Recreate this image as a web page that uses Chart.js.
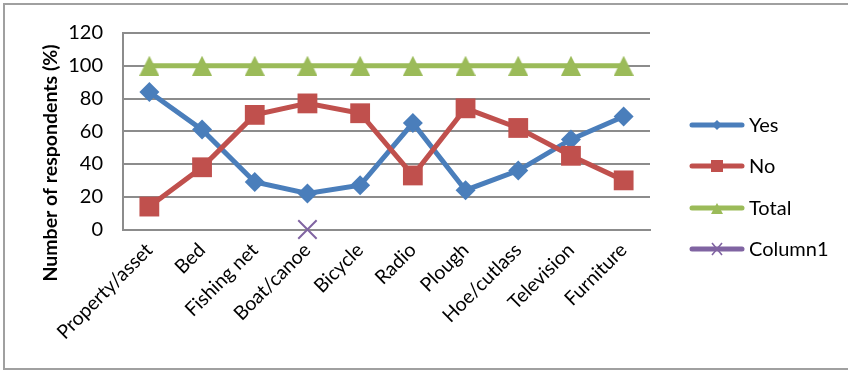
<!DOCTYPE html>
<html>
<head>
<meta charset="utf-8">
<script src="https://cdn.jsdelivr.net/npm/chart.js@4/dist/chart.umd.min.js"></script>
<style>
  html, body { margin: 0; padding: 0; background: #ffffff; }
  #wrap { width: 848px; height: 371px; }
</style>
</head>
<body>
<div id="wrap"><canvas id="chart" width="848" height="371"></canvas></div>
<script>
// Household assets: share of respondents answering Yes / No
const categories = ['Property/asset', 'Bed', 'Fishing net', 'Boat/canoe', 'Bicycle',
                    'Radio', 'Plough', 'Hoe/cutlass', 'Television', 'Furniture'];
const yesValues = [84, 61, 29, 22, 27, 65, 24, 36, 55, 69];
const noValues = [14, 38, 70, 77, 71, 33, 74, 62, 45, 30];
const totalValues = [100, 100, 100, 100, 100, 100, 100, 100, 100, 100];
const column1Values = [null, null, null, 0, null, null, null, null, null, null];
const yTicks = [0, 20, 40, 60, 80, 100, 120];
const yTitle = 'Number of respondents (%)';

const FONT = 'Lato, "Open Sans", sans-serif';
const BLUE = '#4a7ebb', RED = '#c0504d', GREEN = '#9bbb59', PURPLE = '#8064a2';
const GRID = '#8c8c8c';

// Triangle marker centred on its bounding box
function triangleMarker(size, color) {
  const c = document.createElement('canvas');
  c.width = size; c.height = size;
  const g = c.getContext('2d');
  g.fillStyle = color;
  g.beginPath();
  g.moveTo(size / 2, 0);
  g.lineTo(size, size);
  g.lineTo(0, size);
  g.closePath();
  g.fill();
  return c;
}

const series = [
  { label: 'Yes', data: yesValues, color: BLUE, style: 'rectRot', radius: 10, order: 4 },
  { label: 'No', data: noValues, color: RED, style: 'rect', radius: 14, order: 3 },
  { label: 'Total', data: totalValues, color: GREEN, style: triangleMarker(20, GREEN), radius: 10, order: 2 },
  { label: 'Column1', data: column1Values, color: PURPLE, style: 'crossRot', radius: 13, order: 1 }
];

// Outer frame, vertical axis title and the legend on the right
const decorations = {
  id: 'decorations',
  afterDraw(chart) {
    const ctx = chart.ctx;
    ctx.save();
    ctx.strokeStyle = '#a0a0a0';
    ctx.lineWidth = 2;
    ctx.beginPath();
    ctx.moveTo(852, 4); ctx.lineTo(4, 4); ctx.lineTo(4, 369); ctx.lineTo(852, 369);
    ctx.stroke();

    ctx.fillStyle = '#000';
    ctx.font = 'bold 19.5px ' + FONT;
    ctx.textAlign = 'center';
    ctx.textBaseline = 'middle';
    ctx.translate(51, 163);
    ctx.rotate(-Math.PI / 2);
    ctx.fillText(yTitle, 0, 0);
    ctx.restore();

    const ys = [125, 166, 208, 249];
    series.forEach((s, i) => {
      const y = ys[i];
      ctx.save();
      ctx.strokeStyle = s.color;
      ctx.fillStyle = s.color;
      ctx.lineWidth = 5;
      ctx.lineCap = 'round';
      ctx.beginPath();
      ctx.moveTo(692, y); ctx.lineTo(742, y);
      ctx.stroke();
      const cx = 717;
      ctx.beginPath();
      if (s.label === 'Yes') {
        ctx.moveTo(cx, y - 5); ctx.lineTo(cx + 5, y); ctx.lineTo(cx, y + 5); ctx.lineTo(cx - 5, y);
        ctx.closePath(); ctx.fill();
      } else if (s.label === 'No') {
        ctx.fillRect(cx - 6, y - 6, 12, 12);
      } else if (s.label === 'Total') {
        ctx.moveTo(cx, y - 5); ctx.lineTo(cx + 6, y + 6); ctx.lineTo(cx - 6, y + 6);
        ctx.closePath(); ctx.fill();
      } else {
        ctx.lineWidth = 1.6;
        ctx.lineCap = 'butt';
        ctx.moveTo(cx - 5, y - 6); ctx.lineTo(cx + 5, y + 6);
        ctx.moveTo(cx + 5, y - 6); ctx.lineTo(cx - 5, y + 6);
        ctx.stroke();
      }
      ctx.fillStyle = '#000';
      ctx.font = '20px ' + FONT;
      ctx.textAlign = 'left';
      ctx.textBaseline = 'middle';
      ctx.fillText(s.label, 749, y + 1);
      ctx.restore();
    });
  }
};

new Chart(document.getElementById('chart'), {
  type: 'line',
  data: {
    labels: categories,
    datasets: series.map(s => ({
      label: s.label,
      data: s.data,
      order: s.order,
      borderColor: s.color,
      backgroundColor: s.color,
      borderWidth: 5,
      pointStyle: s.style,
      pointRadius: s.radius,
      pointHoverRadius: s.radius,
      pointBorderWidth: s.label === 'Column1' ? 2 : 0,
      pointBorderColor: s.color,
      pointBackgroundColor: s.color,
      tension: 0,
      spanGaps: false,
      clip: false
    }))
  },
  options: {
    responsive: false,
    animation: false,
    devicePixelRatio: 1,
    layout: { padding: { left: 0, top: 33, right: 198, bottom: 0 } },
    plugins: { legend: { display: false }, tooltip: { enabled: false } },
    scales: {
      x: {
        type: 'category',
        offset: true,
        grid: { display: false, drawTicks: false },
        border: { display: true, color: GRID, width: 2 },
        ticks: {
          color: '#000',
          font: { family: FONT, size: 19.5 },
          minRotation: 45, maxRotation: 45,
          padding: 9,
          autoSkip: false
        },
        afterFit(scale) { scale.height = 141.5; }
      },
      y: {
        min: 0, max: 120,
        afterBuildTicks(scale) { scale.ticks = yTicks.map(v => ({ value: v })); },
        grid: { color: GRID, lineWidth: 2, drawTicks: false },
        border: { display: true, color: GRID, width: 2 },
        ticks: {
          color: '#000',
          font: { family: FONT, size: 20 },
          padding: 20
        },
        afterFit(scale) { scale.width = 123; }
      }
    }
  },
  plugins: [decorations]
});
</script>
</body>
</html>
